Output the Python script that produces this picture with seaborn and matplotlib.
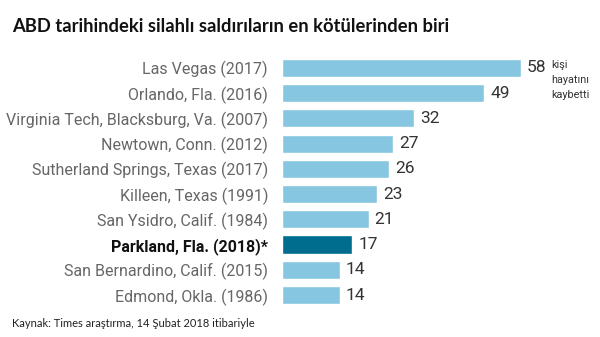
import matplotlib
matplotlib.use('Agg')
import matplotlib.pyplot as plt
import seaborn as sns
import pandas as pd

# data
places = ['Las Vegas (2017)', 'Orlando, Fla. (2016)', 'Virginia Tech, Blacksburg, Va. (2007)',
          'Newtown, Conn. (2012)', 'Sutherland Springs, Texas (2017)', 'Killeen, Texas (1991)',
          'San Ysidro, Calif. (1984)', 'Parkland, Fla. (2018)*', 'San Bernardino, Calif. (2015)',
          'Edmond, Okla. (1986)']
deaths = [58, 49, 32, 27, 26, 23, 21, 17, 14, 14]
highlight = 'Parkland, Fla. (2018)*'

title = 'ABD tarihindeki silahlı saldırıların en kötülerinden biri'
unit_note = 'kişi\nhayatını\nkaybetti'
source = 'Kaynak: Times araştırma, 14 Şubat 2018 itibariyle'

sns.set_theme(style='white')
plt.rcParams['font.family'] = ['Roboto', 'DejaVu Sans']

df = pd.DataFrame({'place': places, 'deaths': deaths})
light, dark = '#86C6E0', '#006C8E'
palette = {p: (dark if p == highlight else light) for p in places}

fig = plt.figure(figsize=(6, 3.37), dpi=100)
ax = fig.add_axes([0.47, 0.087, 0.53, 0.749])
sns.barplot(data=df, x='deaths', y='place', hue='place', palette=palette,
            order=places, width=0.72, legend=False, ax=ax, saturation=1)
ax.set_xlim(0, 77.2)
ax.set_ylim(9.5, -0.5)
ax.set_xlabel('')
ax.set_ylabel('')
ax.set_xticks([])
sns.despine(ax=ax, left=True, bottom=True)
ax.tick_params(axis='y', length=0, pad=10, labelsize=11.5, labelcolor='#666666')
for lbl in ax.get_yticklabels():
    if lbl.get_text() == highlight:
        lbl.set_fontweight('bold')
        lbl.set_color('#111111')

for i, v in enumerate(deaths):
    ax.text(v + 1.5, i, str(v), va='center', ha='left', fontsize=12.5, color='#333333')
ax.text(65.3, -0.3, unit_note, va='top', ha='left', fontsize=7.8,
        color='#333333', linespacing=1.6)

fig.text(0.02, 0.905, title, fontsize=13.2, fontweight='bold', color='#111111',
         family=['Lato', 'DejaVu Sans'])
fig.text(0.02, 0.03, source, fontsize=8, color='#222222',
         family=['Lato', 'DejaVu Sans'])

fig.savefig('out.png', dpi=100)
